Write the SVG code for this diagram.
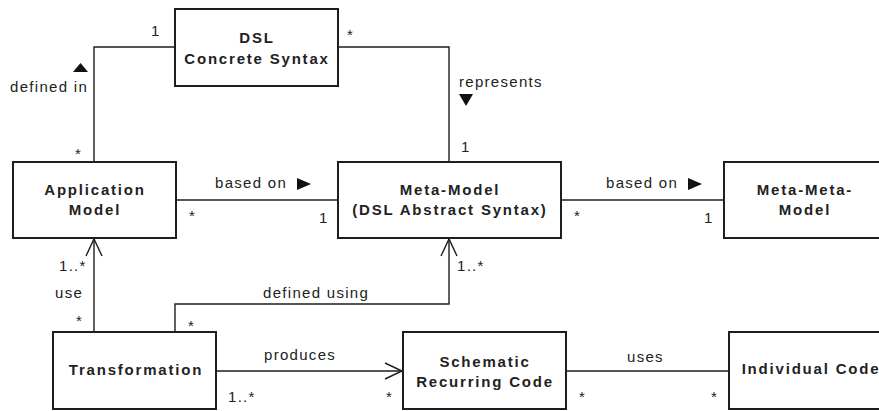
<svg xmlns="http://www.w3.org/2000/svg" width="879" height="411" viewBox="0 0 879 411">
  <style>
    .box { fill: #fff; stroke: #1e1e1e; stroke-width: 2; }
    .name { font-family: "Liberation Sans", Arial, sans-serif; font-size: 15px; font-weight: bold; letter-spacing: 1.8px; fill: #222; text-anchor: middle; }
    .lbl { font-family: "Liberation Sans", Arial, sans-serif; font-size: 15px; letter-spacing: 1.3px; fill: #222; }
    .conn { fill: none; stroke: #1e1e1e; stroke-width: 1.4; }
    .tri { fill: #111; }
  </style>
  <defs>
    <marker id="open" markerUnits="userSpaceOnUse" markerWidth="22" markerHeight="20" refX="18" refY="9" orient="auto">
      <path d="M1,1 L18,9 L1,17" fill="none" stroke="#1e1e1e" stroke-width="1.4"/>
    </marker>
  </defs>

  <!-- associations -->
  <g id="connectors">
    <polyline class="conn" points="175,47 94,47 94,162"/>
    <polyline class="conn" points="338,47 449,47 449,162"/>
    <line class="conn" x1="176" y1="200" x2="338" y2="200"/>
    <line class="conn" x1="561" y1="200" x2="724" y2="200"/>
    <line class="conn" x1="94" y1="332" x2="94" y2="239" marker-end="url(#open)"/>
    <polyline class="conn" points="175,332 175,304 449,304 449,239" marker-end="url(#open)"/>
    <line class="conn" x1="216" y1="371" x2="402" y2="371" marker-end="url(#open)"/>
    <line class="conn" x1="566" y1="371" x2="729" y2="371"/>

    <!-- role names and reading directions -->
    <polygon class="tri" points="73,72 88,72 80.5,63"/>
    <text class="lbl" x="10" y="92">defined in</text>
    <text class="lbl" x="459" y="87">represents</text>
    <polygon class="tri" points="459,94 473,94 466,106"/>
    <text class="lbl" x="215" y="188">based on</text>
    <polygon class="tri" points="297,178 297,190 311,184"/>
    <text class="lbl" x="606" y="188">based on</text>
    <polygon class="tri" points="688,178 688,190 702,184"/>
    <text class="lbl" x="55" y="298">use</text>
    <text class="lbl" x="263" y="298">defined using</text>
    <text class="lbl" x="264" y="360">produces</text>
    <text class="lbl" x="627" y="362">uses</text>

    <!-- multiplicities -->
    <text class="lbl" x="151" y="36">1</text>
    <text class="lbl" x="347" y="40">*</text>
    <text class="lbl" x="75" y="159">*</text>
    <text class="lbl" x="461" y="152">1</text>
    <text class="lbl" x="189" y="221">*</text>
    <text class="lbl" x="319" y="223">1</text>
    <text class="lbl" x="574" y="221">*</text>
    <text class="lbl" x="704" y="223">1</text>
    <text class="lbl" x="59" y="271">1..*</text>
    <text class="lbl" x="457" y="271">1..*</text>
    <text class="lbl" x="76" y="326">*</text>
    <text class="lbl" x="188" y="331">*</text>
    <text class="lbl" x="228" y="402">1..*</text>
    <text class="lbl" x="386" y="402">*</text>
    <text class="lbl" x="579" y="402">*</text>
    <text class="lbl" x="711" y="402">*</text>
  </g>

  <g id="dsl-concrete-syntax">
    <rect class="box" x="175" y="9" width="163" height="77"/>
    <text class="name" x="257" y="43">DSL</text>
    <text class="name" x="257" y="64">Concrete Syntax</text>
  </g>

  <g id="application-model">
    <rect class="box" x="13" y="162" width="163" height="76"/>
    <text class="name" x="95" y="195">Application</text>
    <text class="name" x="95" y="215">Model</text>
  </g>

  <g id="meta-model">
    <rect class="box" x="338" y="162" width="223" height="76"/>
    <text class="name" x="450" y="195">Meta-Model</text>
    <text class="name" x="450" y="215">(DSL Abstract Syntax)</text>
  </g>

  <g id="meta-meta-model">
    <rect class="box" x="724" y="162" width="170" height="76"/>
    <text class="name" x="805" y="195">Meta-Meta-</text>
    <text class="name" x="805" y="215">Model</text>
  </g>

  <g id="transformation">
    <rect class="box" x="53" y="332" width="163" height="77"/>
    <text class="name" x="136" y="375">Transformation</text>
  </g>

  <g id="schematic-recurring-code">
    <rect class="box" x="403" y="332" width="163" height="77"/>
    <text class="name" x="485" y="367">Schematic</text>
    <text class="name" x="485" y="387">Recurring Code</text>
  </g>

  <g id="individual-code">
    <rect class="box" x="729" y="332" width="170" height="77"/>
    <text class="name" x="811" y="374">Individual Code</text>
  </g>
</svg>
